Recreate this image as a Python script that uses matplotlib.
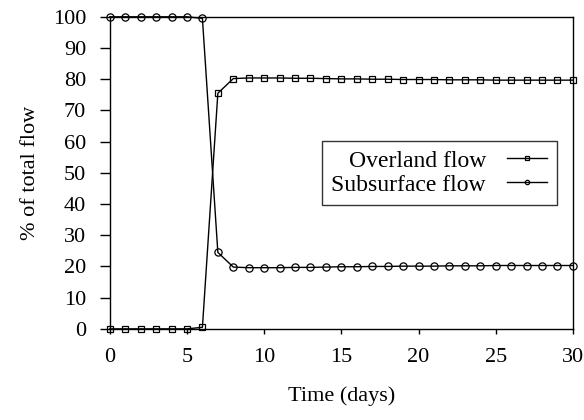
import matplotlib
matplotlib.use("Agg")
import matplotlib.pyplot as plt

plt.rcParams['font.family'] = ['Liberation Serif', 'DejaVu Serif']
plt.rcParams['font.size'] = 16

# data
days = list(range(0, 31))
overland = [0, 0, 0, 0, 0, 0, 0.5, 75.5, 80.2, 80.4, 80.4, 80.4, 80.3, 80.3, 80.2, 80.1,
            80.1, 80.0, 80.0, 79.9, 79.9, 79.9, 79.8, 79.8, 79.8, 79.7, 79.7, 79.7, 79.7, 79.7, 79.7]
subsurface = [100, 100, 100, 100, 100, 100, 99.5, 24.5, 19.8, 19.6, 19.6, 19.6, 19.7, 19.7, 19.8, 19.9,
              19.9, 20.0, 20.0, 20.1, 20.1, 20.1, 20.2, 20.2, 20.2, 20.3, 20.3, 20.3, 20.3, 20.3, 20.3]

fig = plt.figure(figsize=(5.84, 4.2), dpi=100)
ax = fig.add_axes([0.188, 0.217, 0.793, 0.743])

ax.plot(days, overland, color='black', lw=1, marker='s', ms=5, mfc='none',
        mec='black', mew=0.9, label='Overland flow', clip_on=False)
ax.plot(days, subsurface, color='black', lw=1, marker='o', ms=5.2, mfc='none',
        mec='black', mew=0.9, label='Subsurface flow', clip_on=False)

ax.set_xlim(0, 30)
ax.set_ylim(0, 100)
ax.set_xticks(range(0, 31, 5))
ax.set_yticks(range(0, 101, 10))
ax.tick_params(axis='y', direction='out', length=7, width=1, pad=10)
ax.tick_params(axis='x', direction='out', length=3.5, width=1, pad=10)
for s in ax.spines.values():
    s.set_linewidth(1)

ax.set_xlabel('Time (days)', labelpad=14)
ax.set_ylabel('% of total flow', labelpad=9)

leg = ax.legend(loc='center right', bbox_to_anchor=(0.965, 0.50), markerfirst=False,
                frameon=True, fancybox=False, edgecolor='black', markerscale=0.6,
                fontsize=17, handlelength=1.7, handletextpad=0.9, borderpad=0.4,
                labelspacing=0.1, borderaxespad=0)
leg.get_frame().set_linewidth(1)
for t in leg.get_texts():
    t.set_ha('right')

fig.savefig('out.png', dpi=100)
